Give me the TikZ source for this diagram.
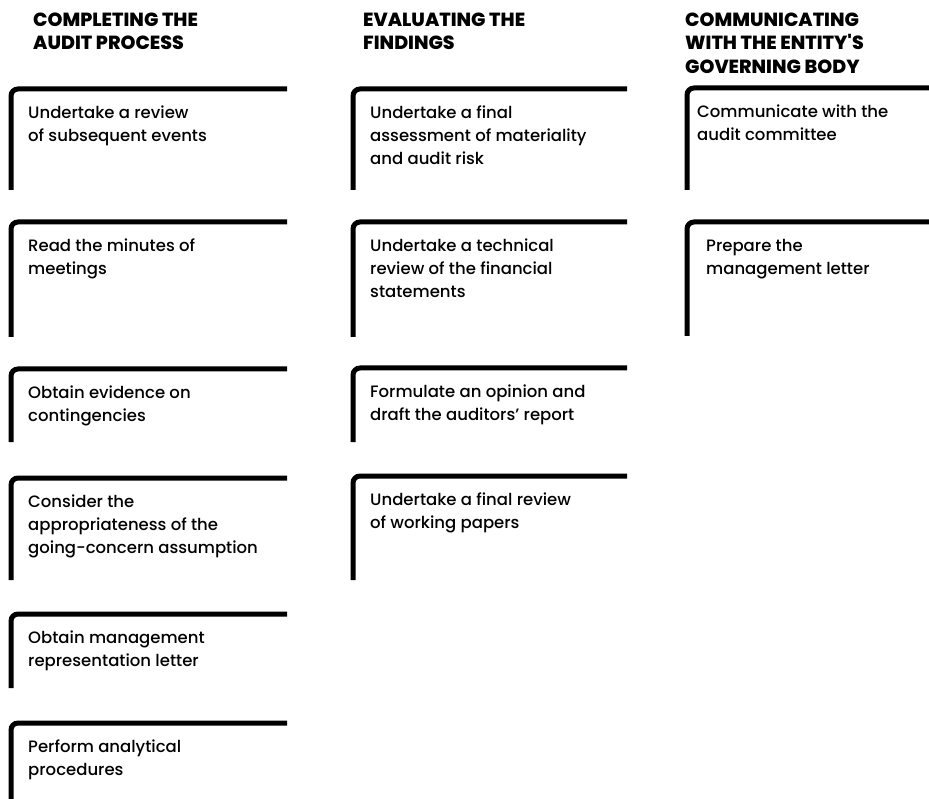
\documentclass[tikz,border=0pt]{standalone}
\usepackage{fontspec}
\setmainfont{Poppins}
\newfontfamily\taskfont{Poppins Medium}
\newfontfamily\phasefont{Poppins ExtraBold}
\begin{document}
\begin{tikzpicture}[x=1pt,y=-1pt,
  stage/.style={line width=5pt, rounded corners=7pt},
  task/.style={anchor=north west, inner sep=0pt, align=left,
    font=\taskfont\fontsize{16.5}{23}\selectfont},
  phase/.style={anchor=north west, inner sep=0pt, align=left,
    font=\phasefont\fontsize{19}{23.5}\selectfont}]
\useasboundingbox (0,0) rectangle (929,799);

% #1 left, #2 top, #3 bottom, #4 right end, #5 text x, #6 name, #7 text
\newcommand{\taskbox}[7]{%
  \draw[stage] (#1,#3) -- (#1,#2) -- (#4,#2);
  \node[task] (#6) at (#5,#2+17) {#7};}

% column headings
\node[phase] (hA) at (33,12.5) {COMPLETING THE\\AUDIT PROCESS};
\node[phase] (hB) at (363,12.5) {EVALUATING THE\\FINDINGS};
\node[phase] (hC) at (685,12.5) {COMMUNICATING\\WITH THE ENTITY'S\\GOVERNING BODY};

% completing the audit process
\taskbox{11}{89}{190}{287}{28}{a1}{Undertake a review\\of subsequent events}
\taskbox{11}{222}{337}{287}{28}{a2}{Read the minutes of\\meetings}
\taskbox{11}{369}{442}{287}{28}{a3}{Obtain evidence on\\contingencies}
\taskbox{11}{478}{580}{287}{28}{a4}{Consider the\\appropriateness of the\\going-concern assumption}
\taskbox{11}{614}{688}{287}{28}{a5}{Obtain management\\representation letter}
\taskbox{11}{723}{805}{287}{28}{a6}{Perform analytical\\procedures}

% evaluating the findings
\taskbox{353}{89}{190}{627}{370}{b1}{Undertake a final\\assessment of materiality\\and audit risk}
\taskbox{353}{222}{337}{627}{370}{b2}{Undertake a technical\\review of the financial\\statements}
\taskbox{353}{368}{442}{627}{370}{b3}{Formulate an opinion and\\draft the auditors’ report}
\taskbox{353}{476}{580}{627}{370}{b4}{Undertake a final review\\of working papers}

% communicating with the governing body
\taskbox{687}{88}{190}{935}{697}{c1}{Communicate with the\\audit committee}
\taskbox{687}{222}{336}{935}{706}{c2}{Prepare the\\management letter}
\end{tikzpicture}
\end{document}
